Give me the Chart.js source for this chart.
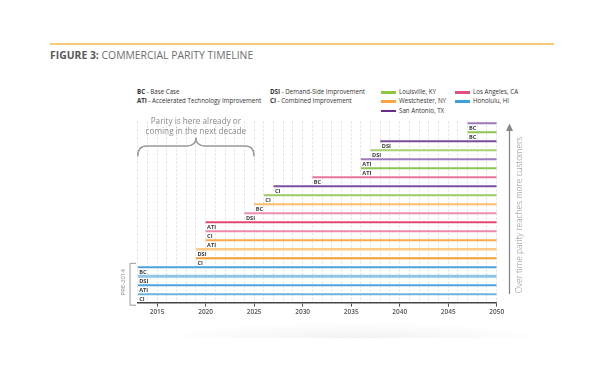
<!DOCTYPE html>
<html>
<head>
<meta charset="utf-8">
<script src="https://cdn.jsdelivr.net/npm/chart.js@4.4.1/dist/chart.umd.min.js"></script>
<style>
  html, body { margin: 0; padding: 0; background: #fff; }
  body { width: 596px; height: 373px; position: relative; overflow: hidden; font-family: "Open Sans", sans-serif; }
  #rule { position: absolute; left: 50px; top: 43px; width: 504px; height: 2px; background: #f9c97a; }
  #title { position: absolute; left: 50px; top: 48px; font-size: 10.4px; line-height: 14px; color: #6d6e71; white-space: nowrap; }
  #title b { font-weight: 700; color: #58595b; }
  .key { position: absolute; font-size: 6.2px; line-height: 8px; color: #333; white-space: nowrap; }
  .key b { font-weight: 700; }
  .swatch { position: absolute; width: 15px; height: 2.5px; }
  #shadow { position: absolute; left: 158px; top: 322px; width: 395px; height: 16px;
            background: radial-gradient(ellipse at 50% 100%, rgba(0,0,0,0.05), rgba(0,0,0,0) 70%); }
  #chartWrap { position: absolute; left: 0; top: 0; width: 596px; height: 373px; }
</style>
</head>
<body>
<div id="rule"></div>
<div id="title"><b>FIGURE 3:</b> COMMERCIAL PARITY TIMELINE</div>
<div id="legend"></div>
<div id="shadow"></div>
<div id="chartWrap"><canvas id="parityChart" width="596" height="373"></canvas></div>
<script>
// data
const endYear = 2050;
const axisStartYear = 2013;   // PRE-2014 rows start at the axis edge
const yearTicks = [2015, 2020, 2025, 2030, 2035, 2040, 2045, 2050];

const scenarioCodes = ['BC', 'DSI', 'ATI', 'CI'];
const scenarioNames = ['Base Case', 'Demand-Side Improvement', 'Accelerated Technology Improvement', 'Combined Improvement'];
const cities = ['Louisville, KY', 'Westchester, NY', 'San Antonio, TX', 'Los Angeles, CA', 'Honolulu, HI'];

// rows from top to bottom
const rowCities = [
    'San Antonio, TX', 'Louisville, KY', 'San Antonio, TX', 'Louisville, KY', 'San Antonio, TX',
    'Louisville, KY', 'Los Angeles, CA', 'San Antonio, TX', 'Louisville, KY', 'Westchester, NY',
    'Los Angeles, CA', 'Los Angeles, CA', 'Los Angeles, CA', 'Westchester, NY', 'Westchester, NY',
    'Westchester, NY', 'Honolulu, HI', 'Honolulu, HI', 'Honolulu, HI', 'Honolulu, HI'
];
const rowScenarios = ['BC', 'BC', 'DSI', 'DSI', 'ATI', 'ATI', 'BC', 'CI', 'CI', 'BC',
                      'DSI', 'ATI', 'CI', 'ATI', 'DSI', 'CI', 'BC', 'DSI', 'ATI', 'CI'];
const parityYears = [2047, 2047, 2038, 2037, 2036, 2036, 2031, 2027, 2026, 2025,
                     2024, 2020, 2020, 2020, 2019, 2019, 2013, 2013, 2013, 2013];

// styles
const cityColors = {
    'Louisville, KY': '#8dc63f',
    'Westchester, NY': '#f9a541',
    'San Antonio, TX': '#6b2c91',
    'Los Angeles, CA': '#e0507a',
    'Honolulu, HI': '#3ea0dc'
};
const rowColors = ['#9d78ba', '#8dc452', '#7a4c9c', '#a5d16e', '#9d7bb8',
                   '#8cc652', '#e9769a', '#7b4f9e', '#9bcb62', '#fbbd68',
                   '#ef8eac', '#e6476f', '#ee89ad', '#f8aa4c', '#fdca86',
                   '#f59e33', '#4da3db', '#8fc5e7', '#4da3db', '#6cb3e0'];
const rowWidths = [2, 2, 2, 2, 2, 2, 2, 2, 2, 2, 2, 2, 2, 2, 2.5, 2, 2, 3, 2, 2];
const FONT = '"Open Sans", sans-serif';

// legend (html)
function buildLegend() {
    const box = document.getElementById('legend');
    let html = '';
    scenarioCodes.forEach((code, i) => {
        const left = i % 2 === 0 ? 137 : 270;
        const top = 88 + Math.floor(i / 2) * 9.3;
        html += `<div class="key" style="left:${left}px;top:${top}px"><b>${code}</b> - ${scenarioNames[i]}</div>`;
    });
    cities.forEach((city, i) => {
        const col = Math.floor(i / 3);
        const row = i % 3;
        const left = col === 0 ? 381 : 455;
        const top = 88 + row * 9.3;
        html += `<div class="swatch" style="left:${left}px;top:${top + 3}px;background:${cityColors[city]}"></div>`;
        html += `<div class="key" style="left:${left + 18}px;top:${top}px">${city}</div>`;
    });
    box.innerHTML = html;
}

// row labels, brace, bracket and arrow
const annotations = {
    id: 'annotations',
    afterDatasetsDraw(chart) {
        const ctx = chart.ctx;
        const xs = chart.scales.x;
        const ys = chart.scales.y;
        const area = chart.chartArea;

        // scenario tags under the start of each line
        ctx.save();
        ctx.font = `700 5.6px ${FONT}`;
        ctx.fillStyle = '#3a3a3a';
        ctx.textBaseline = 'middle';
        ctx.textAlign = 'left';
        parityYears.forEach((yr, i) => {
            ctx.fillText(rowScenarios[i], xs.getPixelForValue(yr) + 1.5, ys.getPixelForValue(i) + 5);
        });
        ctx.restore();

        // brace over the next decade
        const x0 = xs.getPixelForValue(axisStartYear);
        const x1 = xs.getPixelForValue(2025);
        const xc = (x0 + x1) / 2;
        const yEnd = 156.5, yMid = 146, yTip = 137.5, r = 9;
        ctx.save();
        ctx.strokeStyle = '#999';
        ctx.lineWidth = 1.4;
        ctx.beginPath();
        ctx.moveTo(x0, yEnd);
        ctx.quadraticCurveTo(x0, yMid, x0 + r, yMid);
        ctx.lineTo(xc - r, yMid);
        ctx.quadraticCurveTo(xc, yMid, xc, yTip);
        ctx.quadraticCurveTo(xc, yMid, xc + r, yMid);
        ctx.lineTo(x1 - r, yMid);
        ctx.quadraticCurveTo(x1, yMid, x1, yEnd);
        ctx.stroke();
        ctx.font = `400 8.2px ${FONT}`;
        ctx.fillStyle = '#8a8a8a';
        ctx.textAlign = 'center';
        ctx.textBaseline = 'middle';
        ctx.fillText('Parity is here already or', xc, 122);
        ctx.fillText('coming in the next decade', xc, 131.5);
        ctx.restore();

        // PRE-2014 bracket
        const bTop = ys.getPixelForValue(16) - 4;
        const bBot = area.bottom + 2.5;
        ctx.save();
        ctx.strokeStyle = '#999';
        ctx.lineWidth = 1;
        ctx.beginPath();
        ctx.moveTo(136, bTop);
        ctx.lineTo(130, bTop);
        ctx.lineTo(130, bBot);
        ctx.lineTo(136, bBot);
        ctx.stroke();
        ctx.translate(123.5, (bTop + bBot) / 2 - 2);
        ctx.rotate(-Math.PI / 2);
        ctx.font = `400 6px ${FONT}`;
        ctx.fillStyle = '#888';
        ctx.textAlign = 'center';
        ctx.textBaseline = 'middle';
        ctx.fillText('PRE-2014', 0, 0);
        ctx.restore();

        // arrow on the right
        const ax = 509.5;
        ctx.save();
        ctx.strokeStyle = '#888';
        ctx.fillStyle = '#888';
        ctx.lineWidth = 1.3;
        ctx.beginPath();
        ctx.moveTo(ax, 129);
        ctx.lineTo(ax, 294);
        ctx.stroke();
        ctx.beginPath();
        ctx.moveTo(ax, 123.5);
        ctx.lineTo(ax - 3.5, 131);
        ctx.lineTo(ax + 3.5, 131);
        ctx.closePath();
        ctx.fill();
        ctx.translate(519.5, 215);
        ctx.rotate(-Math.PI / 2);
        ctx.font = `300 8.4px ${FONT}`;
        ctx.fillStyle = '#8a8a8a';
        ctx.textAlign = 'center';
        ctx.textBaseline = 'middle';
        ctx.fillText('Over time parity reaches more customers', 0, 0);
        ctx.restore();
    }
};

function initChart() {
    const datasets = parityYears.map((yr, i) => ({
        label: rowCities[i] + ' ' + rowScenarios[i],
        data: [{ x: yr, y: i }, { x: endYear, y: i }],
        borderColor: rowColors[i],
        borderWidth: rowWidths[i],
        pointRadius: 0,
        showLine: true,
        fill: false
    }));

    const ctx = document.getElementById('parityChart').getContext('2d');
    new Chart(ctx, {
        type: 'scatter',
        data: { datasets: datasets },
        options: {
            responsive: false,
            animation: false,
            layout: { padding: { left: 137.7, right: 99.3, top: 121.5, bottom: 48.3 } },
            plugins: {
                legend: { display: false },
                tooltip: { enabled: false }
            },
            scales: {
                x: {
                    type: 'linear',
                    min: axisStartYear,
                    max: endYear,
                    afterFit(scale) { scale.height = 22; },
                    ticks: {
                        stepSize: 1,
                        autoSkip: false,
                        maxRotation: 0,
                        padding: 2,
                        color: '#555',
                        font: { family: FONT, size: 6.5, weight: '600' },
                        callback: v => yearTicks.includes(v) ? String(v) : ''
                    },
                    grid: {
                        color: '#dadada',
                        lineWidth: 0.8,
                        tickLength: 4,
                        tickWidth: 1,
                        tickColor: c => (c.tick && yearTicks.includes(c.tick.value)) ? '#555' : 'rgba(0,0,0,0)'
                    },
                    border: { color: '#444', width: 1.5, dash: [2, 2] }
                },
                y: {
                    type: 'linear',
                    reverse: true,
                    min: -0.2,
                    max: 19.93,
                    display: false
                }
            }
        },
        plugins: [annotations]
    });
}

document.addEventListener('DOMContentLoaded', function() {
    buildLegend();
    initChart();
});
</script>
</body>
</html>
